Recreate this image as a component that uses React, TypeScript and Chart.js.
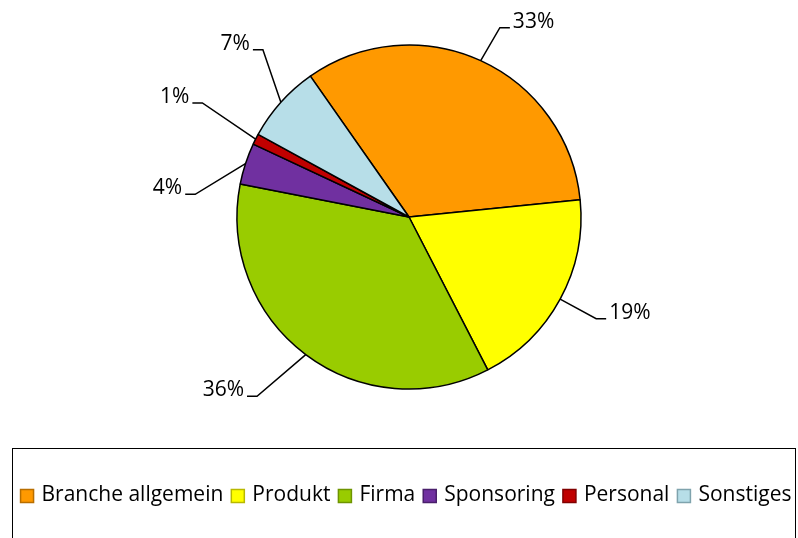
import React, { useEffect, useRef } from "react";
import { Chart, registerables } from "chart.js";

Chart.register(...registerables);

const labels = ["Branche allgemein", "Produkt", "Firma", "Sponsoring", "Personal", "Sonstiges"];
const values = [33.1, 19.0, 35.6, 3.9, 1.0, 7.3];
const colors = ["#FF9900", "#FFFF00", "#99CC00", "#7030A0", "#C00000", "#B7DEE8"];
const legendBorders = ["#B86E00", "#B8B800", "#6E9400", "#4A1F6B", "#800000", "#7FA3AD"];
// label leader layout (styling): angle shift in degrees and elbow radius in px
const labelAngleShift = [1, 0, 3.4, -12, 2, 7];
const labelRadius = [210, 213, 235, 215, 236, 222];

const FONT = '21px "Open Sans", sans-serif';

const leaderPlugin = {
  id: "leaderLabels",
  afterDatasetsDraw(chart: any) {
    const ctx = chart.ctx;
    const meta = chart.getDatasetMeta(0);
    const data = chart.data.datasets[0].data as number[];
    const total = data.reduce((a, b) => a + b, 0);
    ctx.save();
    ctx.font = FONT;
    ctx.fillStyle = "#000";
    ctx.strokeStyle = "#000";
    ctx.lineWidth = 1.5;
    meta.data.forEach((el: any, i: number) => {
      const { x, y, startAngle, endAngle, outerRadius } = el.getProps(
        ["x", "y", "startAngle", "endAngle", "outerRadius"],
        true
      );
      const mid = (startAngle + endAngle) / 2;
      const sx = x + Math.cos(mid) * outerRadius;
      const sy = y + Math.sin(mid) * outerRadius;
      const a = mid + (labelAngleShift[i] * Math.PI) / 180;
      const ex = x + Math.cos(a) * labelRadius[i];
      const ey = y + Math.sin(a) * labelRadius[i];
      const right = Math.cos(a) >= 0;
      const hx = ex + (right ? 10 : -10);
      ctx.beginPath();
      ctx.moveTo(sx, sy);
      ctx.lineTo(ex, ey);
      ctx.lineTo(hx, ey);
      ctx.stroke();
      const pct = Math.round((data[i] / total) * 100) + "%";
      ctx.textAlign = right ? "left" : "right";
      ctx.textBaseline = "middle";
      ctx.fillText(pct, hx + (right ? 3 : -3), ey - 6);
    });
    ctx.restore();
  },
};

const legendPlugin = {
  id: "boxLegend",
  afterDraw(chart: any) {
    const ctx = chart.ctx;
    ctx.save();
    ctx.strokeStyle = "#000";
    ctx.lineWidth = 1;
    ctx.strokeRect(12.5, 448.5, 783, 120);
    ctx.font = FONT;
    const box = 13;
    const gapText = 8;
    const gapItem = 8;
    const widths = labels.map((l) => ctx.measureText(l).width);
    const total =
      widths.reduce((a, w) => a + box + gapText + w, 0) + gapItem * (labels.length - 1);
    let x = 406 - total / 2;
    const cy = 496;
    ctx.textBaseline = "middle";
    ctx.textAlign = "left";
    labels.forEach((l, i) => {
      ctx.fillStyle = colors[i];
      ctx.fillRect(x, cy - box / 2, box, box);
      ctx.strokeStyle = legendBorders[i];
      ctx.lineWidth = 1.5;
      ctx.strokeRect(x, cy - box / 2, box, box);
      ctx.fillStyle = "#000";
      ctx.fillText(l, x + box + gapText, cy - 1);
      x += box + gapText + widths[i] + gapItem;
    });
    ctx.restore();
  },
};

export default function App() {
  const ref = useRef<HTMLCanvasElement>(null);
  useEffect(() => {
    document.body.style.margin = "0";
    const chart = new Chart(ref.current!, {
      type: "pie",
      data: {
        labels,
        datasets: [
          {
            data: values,
            backgroundColor: colors,
            borderColor: "#000",
            borderWidth: 1.5,
          },
        ],
      },
      options: {
        responsive: false,
        animation: false,
        rotation: -35,
        radius: 172,
        layout: { padding: { left: 20, right: 0, top: 0, bottom: 104 } },
        plugins: {
          legend: { display: false },
          tooltip: { enabled: false },
        },
      },
      plugins: [leaderPlugin, legendPlugin],
    } as any);
    return () => chart.destroy();
  }, []);
  return (
    <div style={{ position: "absolute", left: 0, top: 0, width: 798, height: 538, background: "#fff" }}>
      <canvas ref={ref} width={798} height={538} style={{ width: 798, height: 538, display: "block" }} />
    </div>
  );
}
